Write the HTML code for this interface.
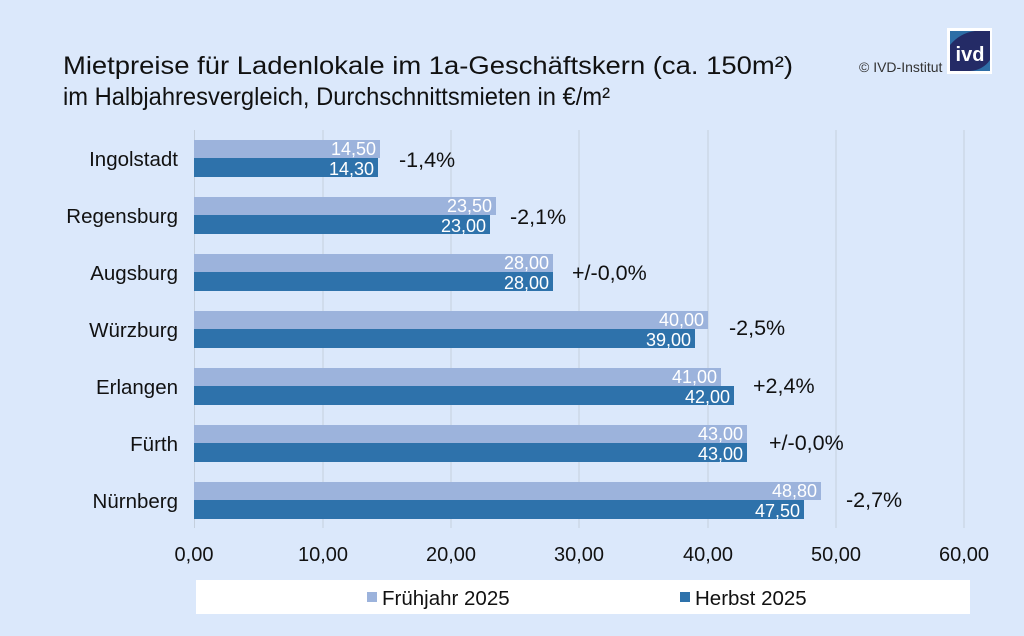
<!DOCTYPE html><html><head><meta charset="utf-8"><style>body{margin:0}svg{display:block}text{font-family:"Liberation Sans",sans-serif}</style></head><body>
<svg width="1024" height="636" xmlns="http://www.w3.org/2000/svg">
<rect width="1024" height="636" fill="#dbe8fb"/>
<text x="63" y="74" font-size="25" fill="#111" textLength="730" lengthAdjust="spacingAndGlyphs">Mietpreise für Ladenlokale im 1a-Geschäftskern (ca. 150m²)</text>
<text x="63" y="105" font-size="25" fill="#111" textLength="547" lengthAdjust="spacingAndGlyphs">im Halbjahresvergleich, Durchschnittsmieten in €/m²</text>
<text x="859" y="72" font-size="14" fill="#333">© IVD-Institut</text>
<rect x="947" y="28" width="45" height="46" fill="#fff"/>
<rect x="950" y="31" width="40" height="40" fill="#242b66"/>
<path d="M950 45 Q960 33 975 31 L950 31Z" fill="#2e6ea6"/>
<path d="M990 60 Q983 70 970 71 L990 71Z" fill="#2e6ea6"/>
<text x="970" y="61" font-size="20" font-weight="bold" fill="#fff" text-anchor="middle">ivd</text>
<g stroke="#c4cfdd" stroke-width="1">
<line x1="194.5" y1="130" x2="194.5" y2="528"/><line x1="323" y1="130" x2="323" y2="528"/><line x1="451" y1="130" x2="451" y2="528"/><line x1="579" y1="130" x2="579" y2="528"/><line x1="708" y1="130" x2="708" y2="528"/><line x1="836" y1="130" x2="836" y2="528"/><line x1="964" y1="130" x2="964" y2="528"/>
</g>
<g font-size="20.5" fill="#111" text-anchor="end">
<text x="178" y="166">Ingolstadt</text><text x="178" y="223">Regensburg</text><text x="178" y="280">Augsburg</text><text x="178" y="337">Würzburg</text><text x="178" y="394">Erlangen</text><text x="178" y="451">Fürth</text><text x="178" y="508">Nürnberg</text>
</g>
<g font-size="18" fill="#fff" text-anchor="end">
<rect x="194" y="140" width="186" height="18" fill="#9cb3dc"/><rect x="194" y="158" width="184" height="19" fill="#2e72ab"/>
<text x="376" y="155">14,50</text><text x="374" y="175">14,30</text>
<rect x="194" y="197" width="302" height="18" fill="#9cb3dc"/><rect x="194" y="215" width="296" height="19" fill="#2e72ab"/>
<text x="492" y="212">23,50</text><text x="486" y="232">23,00</text>
<rect x="194" y="254" width="359" height="18" fill="#9cb3dc"/><rect x="194" y="272" width="359" height="19" fill="#2e72ab"/>
<text x="549" y="269">28,00</text><text x="549" y="289">28,00</text>
<rect x="194" y="311" width="514" height="18" fill="#9cb3dc"/><rect x="194" y="329" width="501" height="19" fill="#2e72ab"/>
<text x="704" y="326">40,00</text><text x="691" y="346">39,00</text>
<rect x="194" y="368" width="527" height="18" fill="#9cb3dc"/><rect x="194" y="386" width="540" height="19" fill="#2e72ab"/>
<text x="717" y="383">41,00</text><text x="730" y="403">42,00</text>
<rect x="194" y="425" width="553" height="18" fill="#9cb3dc"/><rect x="194" y="443" width="553" height="19" fill="#2e72ab"/>
<text x="743" y="440">43,00</text><text x="743" y="460">43,00</text>
<rect x="194" y="482" width="627" height="18" fill="#9cb3dc"/><rect x="194" y="500" width="610" height="19" fill="#2e72ab"/>
<text x="817" y="497">48,80</text><text x="800" y="517">47,50</text>
</g>
<g font-size="21.5" fill="#111">
<text x="399" y="167">-1,4%</text><text x="510" y="224">-2,1%</text><text x="572" y="280">+/-0,0%</text><text x="729" y="335">-2,5%</text><text x="753" y="393">+2,4%</text><text x="769" y="450">+/-0,0%</text><text x="846" y="507">-2,7%</text>
</g>
<g font-size="20" fill="#111" text-anchor="middle">
<text x="194" y="561">0,00</text><text x="323" y="561">10,00</text><text x="451" y="561">20,00</text><text x="579" y="561">30,00</text><text x="708" y="561">40,00</text><text x="836" y="561">50,00</text><text x="964" y="561">60,00</text>
</g>
<rect x="196" y="580" width="774" height="34" fill="#fff"/>
<rect x="367" y="592" width="10" height="10" fill="#9cb3dc"/>
<text x="382" y="605" font-size="20.5" fill="#111">Frühjahr 2025</text>
<rect x="680" y="592" width="10" height="10" fill="#2e72ab"/>
<text x="695" y="605" font-size="20.5" fill="#111">Herbst 2025</text>
</svg>
</body></html>
